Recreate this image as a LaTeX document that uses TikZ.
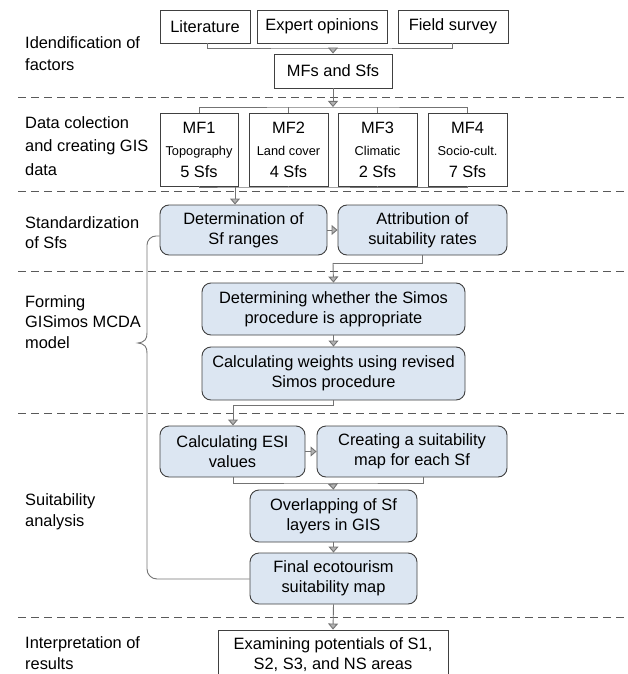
\documentclass[tikz,border=0pt]{standalone}
\usepackage{fontspec}
\setmainfont{Liberation Sans}
\usetikzlibrary{arrows.meta}
\usetikzlibrary{positioning}
\usetikzlibrary{calc}

\definecolor{boxblue}{RGB}{220,230,242}
\definecolor{linegray}{RGB}{115,115,115}

\begin{document}
\begin{tikzpicture}
  [x=1pt,y=-1pt,
  box/.style={draw=black!75,line width=0.9pt,fill=white,align=center,inner sep=2pt,font=\fontsize{16.4}{20}\selectfont},
  bluebox/.style={box,fill=boxblue,rounded corners=9pt},
  lbl/.style={anchor=west,align=left,inner sep=0pt,font=\fontsize{16.4}{20.5}\selectfont},
  line/.style={draw=linegray,line width=0.9pt},
  arr/.style={line,-{Triangle[width=10pt,length=6pt,fill=black!30]}},
  sep/.style={draw=black!65,line width=0.9pt,dash pattern=on 8pt off 5pt}]
  \useasboundingbox (0,0) rectangle (627,674);
  \clip (0,0) rectangle (627,674);

  % section borders
  \draw[sep] (18,97) -- (627,97);
  \draw[sep] (18,191) -- (627,191);
  \draw[sep] (18,271) -- (627,271);
  \draw[sep] (18,413) -- (627,413);
  \draw[sep] (18,617) -- (627,617);

  % stage labels
  \node[lbl,font=\fontsize{16.4}{22}\selectfont] (l1) at (25,54) {Idendification of\\factors};
  \node[lbl,font=\fontsize{16.4}{23.5}\selectfont] (l2) at (25,146) {Data colection\\and creating GIS\\data};
  \node[lbl] (l3) at (25,232.5) {Standardization\\of Sfs};
  \node[lbl] (l4) at (25,322) {Forming\\GISimos MCDA\\model};
  \node[lbl] (l5) at (25,512) {Suitability\\analysis};
  \node[lbl] (l6) at (25,653) {Interpretation of\\results};

  % factors
  \node[box,minimum width=90,minimum height=33] (lit) at (205,26.5) {Literature};
  \node[box,minimum width=130,minimum height=33] (exp) at (322,26.5) {Expert opinions};
  \node[box,minimum width=110,minimum height=33] (fld) at (453,26.5) {Field survey};
  \node[box,minimum width=118,minimum height=34] (mfs) at (333,71) {MFs and Sfs};

  % main factors
  \node[box,minimum width=78,minimum height=73] (mf1) at (199,149.5) {MF1\\[2pt]{\fontsize{12.8}{15}\selectfont Topography}\\[2pt]5 Sfs};
  \node[box,minimum width=79,minimum height=73] (mf2) at (288.5,149.5) {MF2\\[2pt]{\fontsize{12.8}{15}\selectfont Land cover}\\[2pt]4 Sfs};
  \node[box,minimum width=79,minimum height=73] (mf3) at (377.5,149.5) {MF3\\[2pt]{\fontsize{12.8}{15}\selectfont Climatic}\\[2pt]2 Sfs};
  \node[box,minimum width=79,minimum height=73] (mf4) at (467.5,149.5) {MF4\\[2pt]{\fontsize{12.8}{15}\selectfont Socio-cult.}\\[2pt]7 Sfs};

  % process steps
  \node[bluebox,minimum width=167,minimum height=50] (det) at (243.5,230) {Determination of\\Sf ranges};
  \node[bluebox,minimum width=169,minimum height=50] (att) at (422.5,230) {Attribution of\\suitability rates};
  \node[bluebox,minimum width=263,minimum height=52] (simos) at (333.5,309) {Determining whether the Simos\\procedure is appropriate};
  \node[bluebox,minimum width=263,minimum height=53] (wts) at (333.5,373.5) {Calculating weights using revised\\Simos procedure};
  \node[bluebox,minimum width=145,minimum height=51] (esi) at (232.5,451.5) {Calculating ESI\\values};
  \node[bluebox,minimum width=190,minimum height=51] (crt) at (412,451.5) {Creating a suitability\\map for each Sf};
  \node[bluebox,minimum width=167,minimum height=52] (ovl) at (333.5,516) {Overlapping of Sf\\layers in GIS};
  \node[bluebox,minimum width=167,minimum height=51] (fin) at (333.5,578.5) {Final ecotourism\\suitability map};
  \node[box,minimum width=230,minimum height=62,text depth=14pt] (exa) at (333,661) {Examining potentials of S1,\\S2, S3, and NS areas};

  % connectors
  \coordinate (j1) at (333,48);
  \draw[line] (lit.south -| 207,0) |- (j1) -| (fld.south -| 452,0);
  \draw[arr] (j1) -- (mfs.north);

  \coordinate (j2) at (333,107);
  \draw[arr] (mfs.south) -- (j2);
  \draw[line] (mf1.north) |- (j2) -| (mf4.north);
  \draw[line] (mf2.north) -- (mf2.north |- j2);
  \draw[line] (mf3.north) -- (mf3.north |- j2);

  \coordinate (j3) at (235,187);
  \draw[line] (mf1.south) |- (j3) -| (mf4.south);
  \draw[line] (mf2.south) -- (mf2.south |- j3);
  \draw[line] (mf3.south) -- (mf3.south |- j3);
  \draw[arr] (j3) -- (det.north -| j3);

  \draw[arr] (det.east) -- (att.west);
  \coordinate (j4) at (333,263);
  \draw[line] (att.south) |- (j4);
  \draw[arr] (j4) -- (simos.north);
  \draw[arr] (simos.south) -- (wts.north);

  \coordinate (j5) at (233,405);
  \draw[line] (wts.south) |- (j5);
  \draw[arr] (j5) -- (esi.north -| j5);
  \draw[arr] (esi.east) -- (crt.west);

  \coordinate (j6) at (333,483);
  \draw[line] (esi.south -| j5) |- (j6) -| (crt.south -| 423,0);
  \draw[arr] (j6) -- (ovl.north);
  \draw[arr] (ovl.south) -- (fin.north);
  \draw[arr] (fin.south) -- (exa.north);

  % brace back to the final map
  \coordinate (btop) at (147,333);
  \coordinate (bbot) at (147,353);
  \draw[line,rounded corners=9pt] ([yshift=-6pt]det.west) -- (147,236) -- (btop);
  \draw[line] (btop) .. controls (147,339) and (145,342) .. (138,343)
    .. controls (145,344) and (147,347) .. (bbot);
  \draw[line,rounded corners=10pt] (bbot) -- (147,579) -- (fin.west |- 0,579);
\end{tikzpicture}
\end{document}
